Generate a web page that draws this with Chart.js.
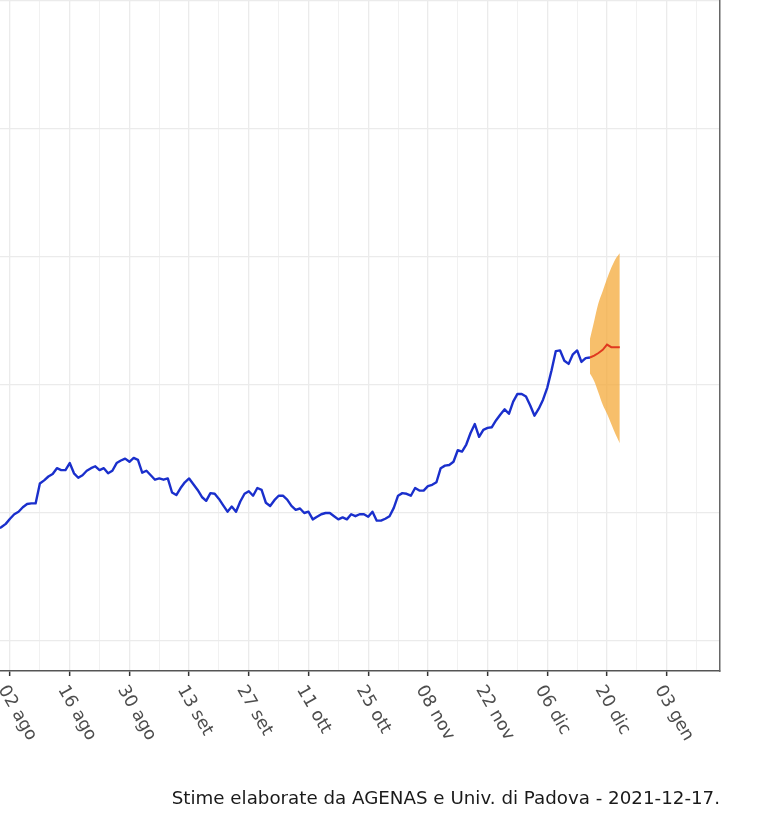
<!DOCTYPE html>
<html>
<head>
<meta charset="utf-8">
<title>Stime AGENAS</title>
<script src="https://cdn.jsdelivr.net/npm/chart.js@4.4.0/dist/chart.umd.min.js"></script>
<style>
  html, body { margin: 0; padding: 0; background: #fff; }
  #wrap { position: relative; width: 767px; height: 824px; overflow: hidden; }
  #caption { position: absolute; right: 47px; top: 787px; font: 18.25px/21px "DejaVu Sans", sans-serif; color: #1a1a1a; white-space: nowrap; }
</style>
</head>
<body>
<div id="wrap">
  <canvas id="chart" width="767" height="824"></canvas>
  <div id="caption">Stime elaborate da AGENAS e Univ. di Padova - 2021-12-17.</div>
</div>
<script>
var refDay = '2021-08-02';
var observedStart = '2021-07-30';
var forecastStart = '2021-12-16';

var tickLabels = ['02 ago', '16 ago', '30 ago', '13 set', '27 set', '11 ott', '25 ott', '08 nov', '22 nov', '06 dic', '20 dic', '03 gen'];

// daily values, 30 lug -> 16 dic
var observed = [
  3.75, 3.78,
  3.83, 3.91, 3.98, 4.02, 4.09, 4.14, 4.15, 4.15, 4.46, 4.51, 4.57, 4.61, 4.70, 4.67, 4.67, 4.78,
  4.62, 4.55, 4.59, 4.66, 4.70, 4.73, 4.67, 4.70, 4.62, 4.66, 4.78, 4.82, 4.85, 4.80, 4.86,
  4.83, 4.63, 4.66, 4.59, 4.52, 4.54, 4.52, 4.54, 4.32, 4.28, 4.39, 4.48, 4.54, 4.45, 4.36,
  4.25, 4.19, 4.31, 4.30, 4.22, 4.12, 4.02, 4.10, 4.02, 4.18, 4.30, 4.34, 4.27, 4.39, 4.36,
  4.16, 4.11, 4.20, 4.27, 4.27, 4.21, 4.11, 4.05, 4.07, 4.00, 4.02, 3.90, 3.94, 3.98, 4.00,
  4.00, 3.95, 3.90, 3.93, 3.90, 3.98, 3.95, 3.98, 3.98, 3.94, 4.02, 3.88, 3.88, 3.91, 3.95, 4.08,
  4.27, 4.31, 4.30, 4.27, 4.39, 4.35, 4.35, 4.42, 4.44, 4.48, 4.70, 4.74, 4.75, 4.80, 4.98,
  4.96, 5.07, 5.25, 5.39, 5.19, 5.30, 5.33, 5.34, 5.45, 5.54, 5.62, 5.55, 5.74, 5.86, 5.86,
  5.82, 5.68, 5.52, 5.63, 5.77, 5.96, 6.23, 6.53, 6.54, 6.38, 6.33, 6.48, 6.54, 6.36, 6.42, 6.43
];

// 16 dic -> 23 dic
var forecastMedian = [6.43, 6.46, 6.50, 6.55, 6.63, 6.59, 6.59, 6.59];
var forecastUpper  = [6.72, 7.00, 7.28, 7.47, 7.66, 7.83, 7.97, 8.06];
var forecastLower  = [6.18, 6.06, 5.88, 5.69, 5.55, 5.39, 5.23, 5.09];

var yGrid = [2, 4, 6, 8, 10, 12];

var dayOf = function(dateStr) {
  return Math.round((Date.parse(dateStr) - Date.parse(refDay)) / 86400000);
};

var toPoints = function(start, values) {
  var first = dayOf(start);
  var pts = [];
  for (var i = 0; i < values.length; i++) {
    pts.push({ x: first + i, y: values[i] });
  }
  return pts;
};

var isMajor = function(ctx) {
  return ctx.tick && ctx.tick.value % 14 === 0;
};

var tickLabelPlugin = {
  id: 'tickLabels',
  afterDraw: function(chart) {
    var ctx = chart.ctx;
    var xs = chart.scales.x;
    var bottom = chart.chartArea.bottom;
    ctx.save();
    ctx.font = '17.5px "DejaVu Sans"';
    ctx.fillStyle = '#4d4d4d';
    ctx.textAlign = 'left';
    ctx.textBaseline = 'middle';
    for (var i = 0; i < tickLabels.length; i++) {
      var px = xs.getPixelForValue(i * 14);
      ctx.save();
      ctx.translate(px - 8, bottom + 16);
      ctx.rotate(Math.PI / 3);
      ctx.fillText(tickLabels[i], 0, 0);
      ctx.restore();
    }
    ctx.restore();
  }
};

var yMin = 1.531, yMax = 12.0;

var chart = new Chart(document.getElementById('chart'), {
  type: 'line',
  data: {
    datasets: [{
      label: 'previsione',
      data: toPoints(forecastStart, forecastMedian),
      borderColor: '#e0391f',
      borderWidth: 2,
      pointRadius: 0,
      tension: 0,
      fill: false
    }, {
      label: 'osservato',
      data: toPoints(observedStart, observed),
      borderColor: '#1a2fcc',
      borderWidth: 2.4,
      borderJoinStyle: 'round',
      pointRadius: 0,
      tension: 0,
      fill: false
    }, {
      label: 'superiore',
      data: toPoints(forecastStart, forecastUpper),
      borderWidth: 0,
      pointRadius: 0,
      cubicInterpolationMode: 'monotone',
      fill: false
    }, {
      label: 'inferiore',
      data: toPoints(forecastStart, forecastLower),
      borderWidth: 0,
      pointRadius: 0,
      cubicInterpolationMode: 'monotone',
      backgroundColor: 'rgba(244,166,50,0.72)',
      fill: '-1'
    }]
  },
  options: {
    responsive: false,
    animation: false,
    devicePixelRatio: 1,
    layout: { padding: { left: 0, right: 47, top: 1, bottom: 0 } },
    plugins: {
      legend: { display: false },
      tooltip: { enabled: false }
    },
    scales: {
      x: {
        type: 'linear',
        min: -2.35,
        max: 166.5,
        afterBuildTicks: function(scale) {
          var t = [];
          for (var v = 0; v <= scale.max; v += 7) t.push({ value: v });
          scale.ticks = t;
        },
        afterFit: function(scale) { scale.height = 153; },
        ticks: { display: false },
        grid: {
          color: '#ebebeb',
          lineWidth: function(ctx) { return isMajor(ctx) ? 1.3 : 0.7; },
          tickColor: function(ctx) { return isMajor(ctx) ? '#333333' : 'rgba(0,0,0,0)'; },
          tickWidth: 1.5,
          tickLength: 5
        },
        border: { display: true, color: '#555555', width: 1.5 }
      },
      y: {
        type: 'linear',
        min: yMin,
        max: yMax,
        afterBuildTicks: function(scale) {
          scale.ticks = yGrid.map(function(v) { return { value: v }; });
        },
        afterFit: function(scale) { scale.width = 0; },
        ticks: { display: false },
        grid: { color: '#ebebeb', lineWidth: 1.3, drawTicks: false },
        border: { display: false }
      },
      y2: {
        type: 'linear',
        position: 'right',
        min: yMin,
        max: yMax,
        afterFit: function(scale) { scale.width = 0; },
        ticks: { display: false },
        grid: { display: false, drawTicks: false },
        border: { display: true, color: '#666666', width: 1.5 }
      }
    }
  },
  plugins: [tickLabelPlugin]
});
console.log('chart drawn');
</script>
</body>
</html>
